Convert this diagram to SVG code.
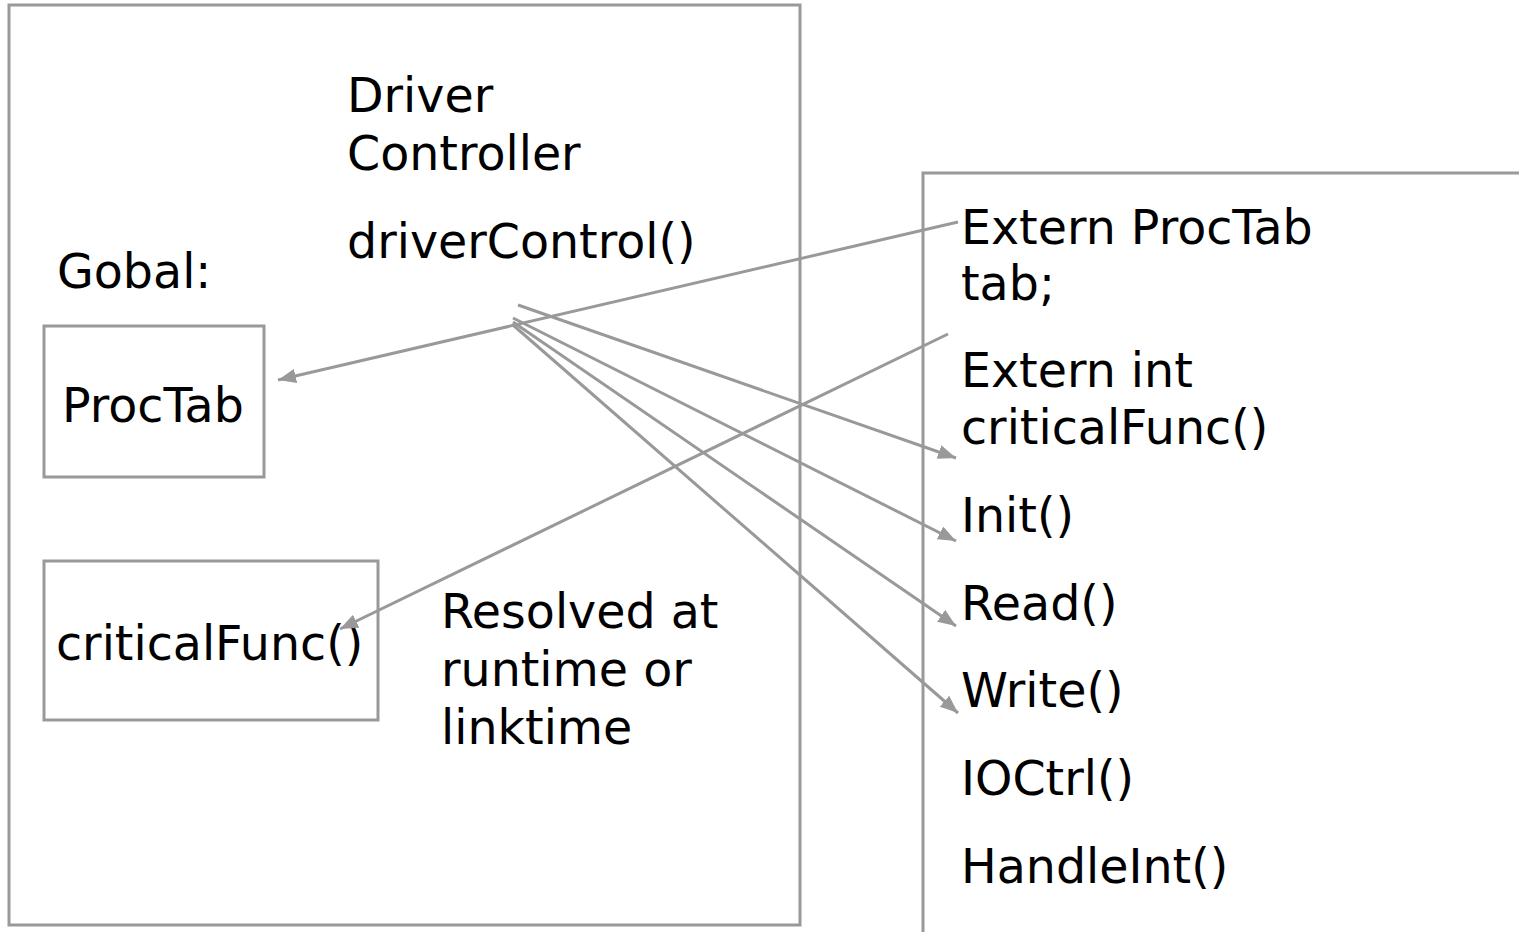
<svg xmlns="http://www.w3.org/2000/svg" width="1519" height="932" viewBox="0 0 1519 932">
<style>
.box{fill:none;stroke:#999;stroke-width:3}
.t{font-family:"DejaVu Sans",sans-serif;font-size:47.5px;fill:#000}
.c{fill:none;stroke:#999;stroke-width:3}
</style>
<defs>
<marker id="ah" viewBox="0 0 10 8" refX="10" refY="4" markerWidth="18" markerHeight="14.4" markerUnits="userSpaceOnUse" orient="auto">
<path d="M0,0 L10,4 L0,8 z" fill="#999"/>
</marker>
</defs>
<rect width="1519" height="932" fill="#fff"/>
<g id="controller">
<rect class="box" x="9" y="5" width="791" height="920"/>
<text class="t" x="347" y="112">Driver</text>
<text class="t" x="347" y="170">Controller</text>
<text class="t" x="347" y="258">driverControl()</text>
<text class="t" x="57" y="288">Gobal:</text>
<text class="t" x="441" y="628">Resolved at</text>
<text class="t" x="441" y="686">runtime or</text>
<text class="t" x="441" y="744">linktime</text>
</g>
<g id="proctab">
<rect class="box" x="44" y="326" width="220" height="151"/>
<text class="t" x="62" y="422">ProcTab</text>
</g>
<g id="criticalfunc">
<rect class="box" x="44" y="561" width="334" height="159"/>
<text class="t" x="56" y="660">criticalFunc()</text>
</g>
<g id="driver">
<path class="box" d="M923,935 L923,173 L1522,173"/>
<text class="t" x="961" y="244">Extern ProcTab</text>
<text class="t" x="961" y="300">tab;</text>
<text class="t" x="961" y="387">Extern int</text>
<text class="t" x="961" y="444">criticalFunc()</text>
<text class="t" x="961" y="532">Init()</text>
<text class="t" x="961" y="620">Read()</text>
<text class="t" x="961" y="707">Write()</text>
<text class="t" x="961" y="795">IOCtrl()</text>
<text class="t" x="961" y="883">HandleInt()</text>
</g>
<g id="connectors">
<line class="c" x1="958" y1="222" x2="278" y2="380" marker-end="url(#ah)"/>
<line class="c" x1="948" y1="334" x2="340" y2="629" marker-end="url(#ah)"/>
<line class="c" x1="518" y1="305" x2="956" y2="458" marker-end="url(#ah)"/>
<line class="c" x1="513" y1="318" x2="956" y2="541" marker-end="url(#ah)"/>
<line class="c" x1="513" y1="322" x2="956" y2="626" marker-end="url(#ah)"/>
<line class="c" x1="513" y1="325" x2="958" y2="713" marker-end="url(#ah)"/>
</g>
</svg>
